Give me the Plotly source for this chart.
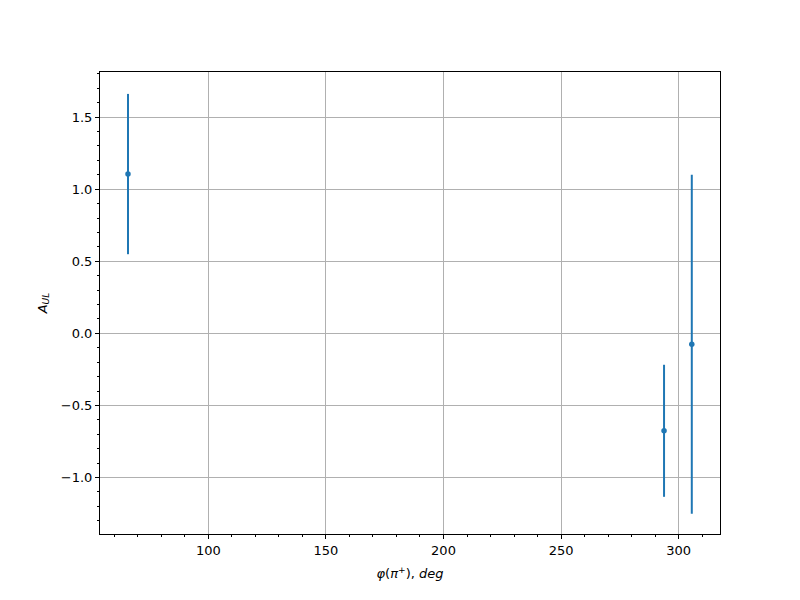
import plotly.graph_objects as go

phi = [65.8, 293.8, 305.6]
a_ul = [1.105, -0.676, -0.076]
err = [0.556, 0.458, 1.176]

fig = go.Figure()
fig.add_trace(go.Scatter(
    x=phi, y=a_ul, mode="markers",
    marker=dict(color="#1f77b4", size=5.5),
    error_y=dict(type="data", array=err, visible=True, color="#1f77b4",
                 thickness=2, width=0),
    showlegend=False,
))

font = dict(family="DejaVu Sans", size=13, color="black")
axis_common = dict(
    showline=True, linecolor="black", linewidth=1, mirror=True,
    ticks="outside", ticklen=4, tickwidth=1, tickcolor="black",
    showgrid=True, gridcolor="#b0b0b0", gridwidth=1, zeroline=False,
    tickfont=font,
)
fig.update_layout(
    width=800, height=600,
    paper_bgcolor="white", plot_bgcolor="white",
    margin=dict(l=92, r=88, t=64, b=74),
    font=font,
    xaxis=dict(range=[53.9, 317.6], tickvals=[100, 150, 200, 250, 300],
               minor=dict(dtick=10, tick0=0, ticks="outside", ticklen=2,
                          tickcolor="black", showgrid=False),
               title=dict(text="<i>φ</i>(<i>π</i><sup>+</sup>), <i>deg</i>",
                          font=font, standoff=12),
               **axis_common),
    yaxis=dict(range=[-1.392, 1.813], tickvals=[-1.0, -0.5, 0.0, 0.5, 1.0, 1.5],
               tickformat=".1f",
               minor=dict(dtick=0.1, tick0=0, ticks="outside", ticklen=2,
                          tickcolor="black", showgrid=False),
               title=dict(text="<i>A</i><sub><i>UL</i></sub>", font=font, standoff=10),
               **axis_common),
)
fig.write_html("out.html")
